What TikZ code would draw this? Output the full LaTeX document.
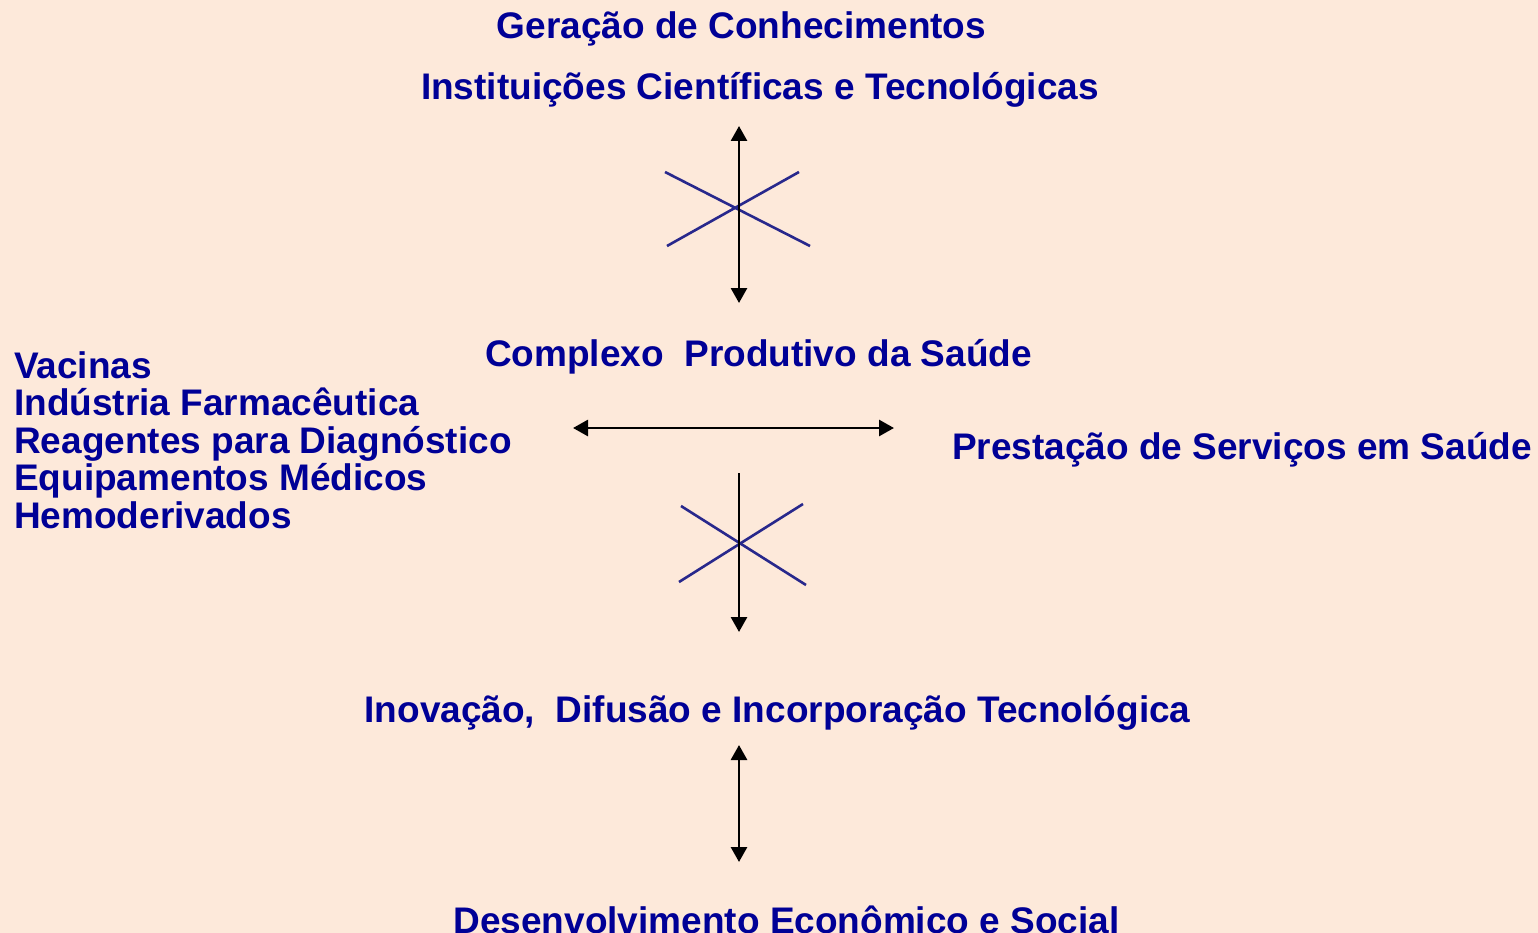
\documentclass[tikz,border=0pt]{standalone}
\usepackage{fontspec}
\setmainfont{Liberation Sans}
\usetikzlibrary{arrows.meta}
\definecolor{fundo}{RGB}{253,233,218}
\definecolor{azultexto}{RGB}{0,0,150}
\definecolor{azullinha}{RGB}{40,40,140}
\tikzset{
  titulo/.style={inner sep=0pt,anchor=base,text=azultexto,font=\fontsize{37}{37.5}\selectfont\bfseries},
  seta/.style={line width=2.8pt,black,-{Triangle[length=15pt,width=16pt]}},
  setadupla/.style={seta,{Triangle[length=15pt,width=16pt]}-{Triangle[length=15pt,width=16pt]}},
  cruz/.style={line width=2.6pt,azullinha}
}
\begin{document}
\begin{tikzpicture}[x=1pt,y=-1pt]
% Background
\fill[fundo] (0,0) rectangle (1538,933);
\useasboundingbox (0,0) rectangle (1538,933);

% Titles
\node[titulo] (geracao) at (741.5,39) {Geração de Conhecimentos};
\node[titulo] (instituicoes) at (760,100) {Instituições Científicas e Tecnológicas};
\node[titulo] (complexo) at (758.5,366) {Complexo\ \ Produtivo da Saúde};
\node[titulo] (prestacao) at (1242,459) {Prestação de Serviços em Saúde};
\node[titulo] (inovacao) at (777.5,722) {Inovação,\ \ Difusão e Incorporação Tecnológica};
\node[titulo] (desenvolvimento) at (786.5,933) {Desenvolvimento Econômico e Social};

% Segments of the complex
\foreach \t [count=\i] in {Vacinas,Indústria Farmacêutica,Reagentes para Diagnóstico,Equipamentos Médicos,Hemoderivados}
  \node[titulo,anchor=base west] (item\i) at (14,{340.5+37.5*\i}) {\t};

% Arrow end points
\coordinate (c1a) at (739,126);
\coordinate (c1b) at (739,303);
\coordinate (c2a) at (573,428);
\coordinate (c2b) at (894,428);
\coordinate (c3a) at (739,473);
\coordinate (c3b) at (739,632);
\coordinate (c4a) at (739,745);
\coordinate (c4b) at (739,862);

% Crosses (broken links)
\draw[cruz] (665,172) -- (810,246);
\draw[cruz] (667,246) -- (799,172);
\draw[cruz] (681,506) -- (806,585);
\draw[cruz] (679,582) -- (803,504);

% Arrows
\draw[setadupla] (c1a) -- (c1b);
\draw[setadupla] (c2a) -- (c2b);
\draw[seta] (c3a) -- (c3b);
\draw[setadupla] (c4a) -- (c4b);
\end{tikzpicture}
\end{document}
